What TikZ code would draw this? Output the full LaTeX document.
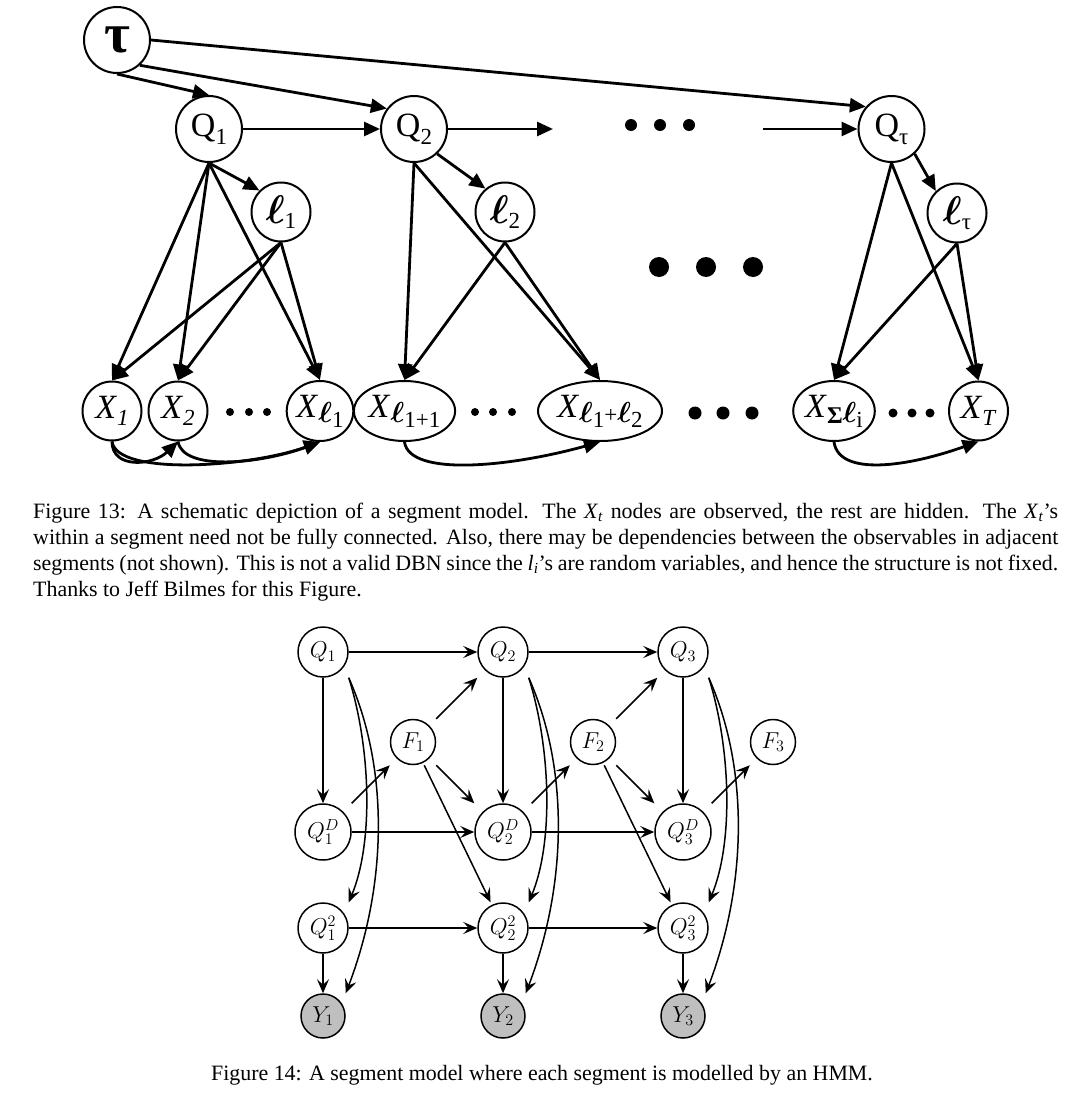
\RequirePackage{fix-cm}
\documentclass[tikz,border=0pt]{standalone}
\usepackage{amsmath}
\usepackage{fontspec}
\setmainfont{Liberation Serif}
\usetikzlibrary{arrows.meta,calc,shapes.geometric}
\newcommand{\fQ}{\fontsize{34}{36}\selectfont}
\newcommand{\fS}{\fontsize{23}{25}\selectfont}
\newcommand{\bell}[1][40]{{\fontsize{#1}{#1}\selectfont$\boldsymbol{\ell}$}}
\newcommand{\XX}{\textit{X}}
\newcommand{\capX}{\textit{X}\textsubscript{\textit{t}}}
\begin{document}
\begin{tikzpicture}[x=1pt,y=-1pt,
  tn/.style={circle, draw, line width=2pt, inner sep=0pt, minimum size=#1},
  te/.style={ellipse, draw, line width=2pt, inner sep=0pt, minimum width=#1, minimum height=60pt},
  tedge/.style={line width=2.8pt, -{Triangle[length=16pt,width=14pt]}},
  hn/.style={draw, rectangle, line width=1.5pt, inner sep=0pt, minimum size=2*#1, rounded corners=#1, font=\fontsize{23}{25}\selectfont},
  hedge/.style={line width=1.5pt, -{Stealth[length=14pt,width=12pt,inset=5.5pt]}},
  capfont/.style={font=\fontsize{21.9}{26.3}\selectfont}
]
\useasboundingbox (0,0) rectangle (1080,1116);

% ---------------- Figure 13 ----------------
\node[tn=66, font=\fontsize{56}{56}\selectfont\bfseries] (tau) at (117,40) {τ};
\node[tn=66, font=\fQ] (Q1) at (209,129) {Q\raisebox{-8pt}{\fS 1}};
\node[tn=66, font=\fQ] (Q2) at (414,129) {Q\raisebox{-8pt}{\fS 2}};
\node[tn=66, font=\fQ] (Qt) at (891.5,129) {Q\raisebox{-8pt}{\fS τ}};
\node[tn=59] (l1) at (281,212) {\bell\raisebox{-5pt}{\fS 1}};
\node[tn=59] (l2) at (505,212) {\bell\raisebox{-5pt}{\fS 2}};
\node[tn=59] (lt) at (957,213) {\bell\raisebox{-5pt}{\fS τ}};

\node[tn=59, font=\fQ] (X1) at (112,411) {\XX\raisebox{-7pt}{\fS\textit{1}}};
\node[tn=59, font=\fQ] (X2) at (178,411) {\XX\raisebox{-7pt}{\fS\textit{2}}};
\node[te=66, font=\fQ] (Xl) at (320,411) {\XX\raisebox{-5pt}{\bell[29]}\raisebox{-10pt}{\fS 1}};
\node[te=87, font=\fQ] (Xa) at (404.5,411) {\XX\raisebox{-5pt}{\bell[29]}\raisebox{-10pt}{\fS 1+1}};
\node[te=124, font=\fQ] (Xb) at (600,411) {\XX\raisebox{-5pt}{\bell[29]}\raisebox{-10pt}{\fS 1}\raisebox{-5pt}{\fS +}\raisebox{-5pt}{\bell[29]}\raisebox{-10pt}{\fS 2}};
\node[te=78, font=\fQ] (Xs) at (834,411) {\XX\raisebox{-6pt}{\fontsize{24}{24}\selectfont\bfseries Σ}\raisebox{-5pt}{\bell[29]}\raisebox{-10pt}{\fS i}};
\node[tn=59, font=\fQ] (XT) at (978.5,411) {\XX\raisebox{-7pt}{\fS\textit{T}}};

\coordinate (c1) at (553,129);
\coordinate (c2) at (763,129);

% dots
\foreach \x in {631,660,689} \fill (\x,125) circle (6);
\foreach \x in {659,706,753} \fill (\x,267) circle (10);
\foreach \x in {230,249,267} \fill (\x,412) circle (4);
\foreach \x in {475,493,512} \fill (\x,412) circle (4);
\foreach \x in {695,723,752} \fill (\x,413) circle (6.5);
\foreach \x in {893,912,930} \fill (\x,413) circle (4.5);

\draw[tedge] (tau.south) -- (Q1.north);
\draw[tedge] (tau.-48) -- (Q2.143);
\draw[tedge] (tau.east) -- (Qt.139);
\draw[tedge] (Q1) -- (Q2);
\draw[tedge] (Q2) -- (c1);
\draw[tedge] (c2) -- (Qt);
\draw[tedge] (Q1.south) -- (l1.135);
\draw[tedge] (Q2.-47) -- (l2.130);
\draw[tedge] (Qt.-47) -- (lt.134);

\foreach \s in {Q1,l1} {
  \draw[tedge] (\s.south) -- (X1.north);
  \draw[tedge] (\s.south) -- (X2.north);
  \draw[tedge] (\s.south) -- (Xl.north);
}
\foreach \s in {Q2,l2} {
  \draw[tedge] (\s.south) -- (Xa.north);
  \draw[tedge] (\s.south) -- (Xb.north);
}
\foreach \s in {Qt,lt} {
  \draw[tedge] (\s.south) -- (Xs.north);
  \draw[tedge] (\s.south) -- (XT.north);
}

\draw[tedge] (X1.south) .. controls +(0,28) and +(-25,24) .. (X2.south);
\draw[tedge] (X1.south) .. controls +(5,35) and +(-70,25) .. (Xl.south);
\draw[tedge] (X2.south) .. controls +(5,30) and +(-60,22) .. (Xl.south);
\draw[tedge] (Xa.south) .. controls +(5,35) and +(-90,25) .. (Xb.south);
\draw[tedge] (Xs.south) .. controls +(5,35) and +(-70,25) .. (XT.south);

\node[capfont, anchor=base west, text width=1025pt, align=justify, inner sep=0pt] (cap13) at (33,518)
{Figure 13: A schematic depiction of a segment model. The \capX{} nodes are observed, the rest are hidden. The \capX's\linebreak
within a segment need not be fully connected. Also, there may be dependencies between the observables in adjacent\linebreak
segments (not shown). This is not a valid DBN since the \textit{l}\textsubscript{\textit{i}}'s are random variables, and hence the structure is not fixed.\linebreak
Thanks to Jeff Bilmes for this Figure.};

% ---------------- Figure 14 ----------------
\foreach \i/\x in {1/323,2/503,3/683} {
  \node[hn=25] (hQ\i) at (\x,652) {$Q_{\i}$};
  \node[hn=22.5] (hF\i) at (\x+90,742) {$F_{\i}$};
  \node[hn=28] (hD\i) at (\x,832) {$Q^{D}_{\i}$};
  \node[hn=25] (hS\i) at (\x,928) {$Q^{2}_{\i}$};
  \node[hn=22, fill=gray!50] (hY\i) at (\x,1016) {$Y_{\i}$};
}
\foreach \i in {1,2,3} {
  \draw[hedge] (hQ\i) -- (hD\i);
  \draw[hedge] (hS\i) -- (hY\i);
  \draw[hedge] (hD\i.north east) -- (hF\i.south west);
  \draw[hedge] (hQ\i.south east) .. controls +(22,70) and +(25,-60) .. (hS\i.north east);
  \draw[hedge] (hQ\i.south east) .. controls +(40,90) and +(42,-110) .. (hY\i.north east);
}
\foreach \i/\j in {1/2,2/3} {
  \draw[hedge] (hQ\i) -- (hQ\j);
  \draw[hedge] (hD\i) -- (hD\j);
  \draw[hedge] (hS\i) -- (hS\j);
  \draw[hedge] (hF\i.north east) -- (hQ\j.south west);
  \draw[hedge] (hF\i.south east) -- (hD\j.north west);
  \draw[hedge] (hF\i) -- (hS\j);
}

\node[capfont, anchor=base, inner sep=0pt] (cap14) at (542,1080)
{Figure 14: A segment model where each segment is modelled by an HMM.};
\end{tikzpicture}
\end{document}
